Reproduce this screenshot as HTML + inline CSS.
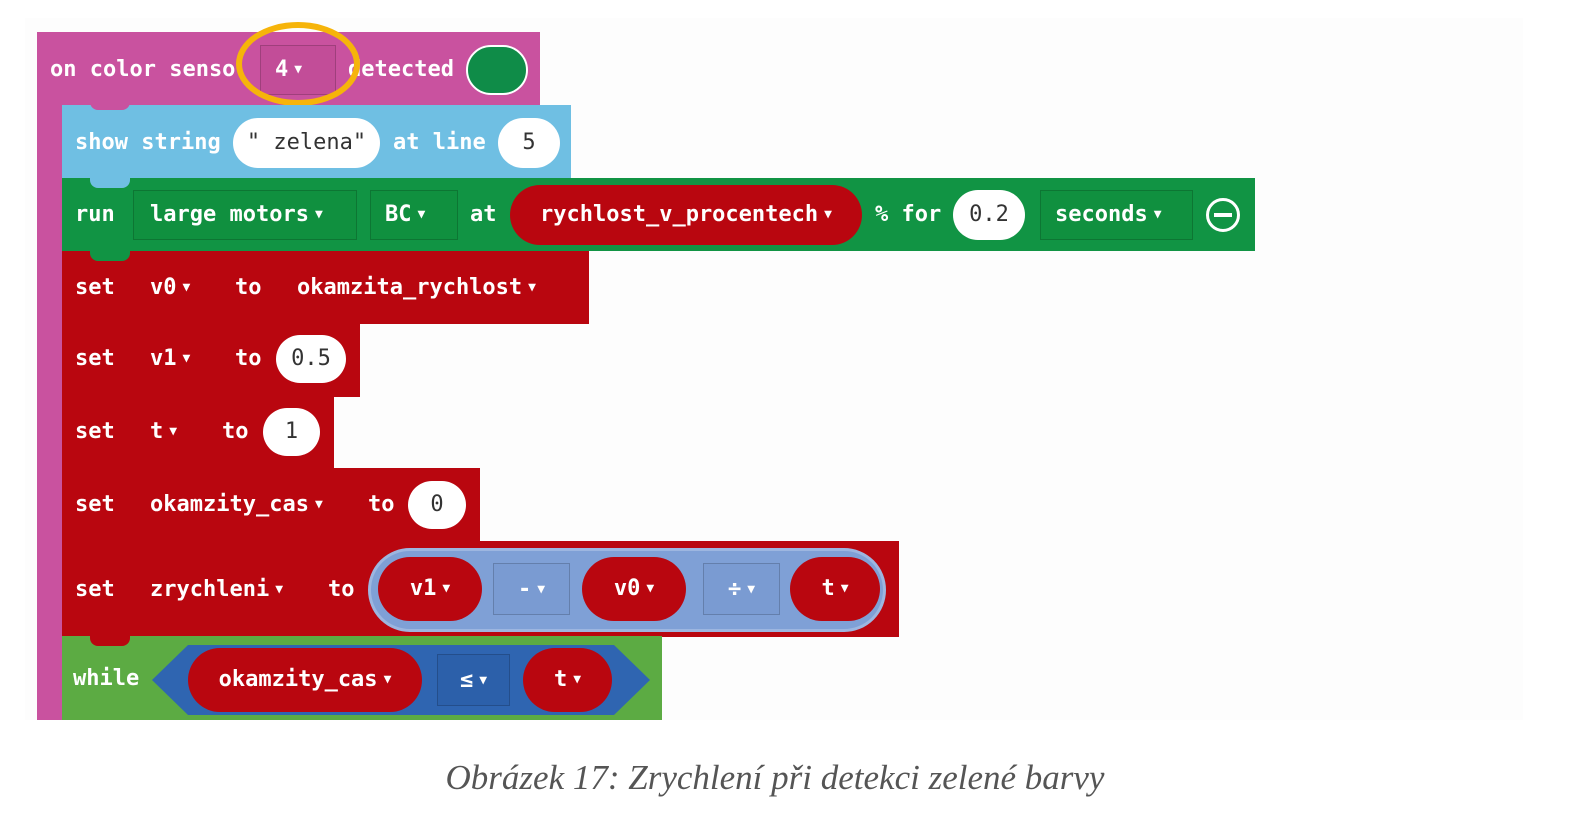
<!DOCTYPE html>
<html><head><meta charset="utf-8"><style>
body{margin:0;width:1580px;height:834px;background:#fff;position:relative;overflow:hidden;font-family:"DejaVu Sans Mono","Liberation Mono",monospace;}
div,span{position:absolute;box-sizing:border-box}
.t{color:#fff;font-size:22px;line-height:30px;white-space:nowrap;font-weight:bold;letter-spacing:0px}
.a{position:static;font-size:13px;vertical-align:3px;margin-left:6px}
.pill{background:#fff;border-radius:26px;color:#333;font-size:22px;text-align:center;font-weight:normal}
.red{background:#b9060f;border-radius:34px;color:#fff;font-size:22px;text-align:center;font-weight:bold;white-space:nowrap}
.box{border:1px solid rgba(0,0,0,0.18)}
</style></head><body>
<div style="left:25px;top:18px;width:1498px;height:702px;background:#fdfdfd"></div>
<!-- hat -->
<div style="left:37px;top:32px;width:503px;height:74px;background:#c9529f"></div>
<div style="left:37px;top:32px;width:25px;height:688px;background:#c9529f"></div>
<div class="box" style="left:260px;top:45px;width:76px;height:50px;background:#c24d98"></div>
<div class="t" style="left:50px;top:55px">on color senso</div>
<div class="t" style="left:275px;top:55px">4<span class="a">▼</span></div>
<div class="t" style="left:348px;top:55px">detected</div>
<div style="left:466px;top:45px;width:62px;height:50px;border-radius:25px;background:#0f8c48;border:2px solid #fff"></div>
<div style="left:236px;top:22px;width:124px;height:84px;border-radius:50%;border:6px solid #f6b40a"></div>
<!-- show string -->
<div style="left:62px;top:105px;width:509px;height:74px;background:#6fbfe3"></div>
<div style="left:90px;top:100px;width:40px;height:10px;background:#c9529f;border-radius:0 0 8px 8px"></div>
<div class="t" style="left:75px;top:128px">show string</div>
<div class="pill" style="left:233px;top:118px;width:147px;height:50px;line-height:50px">" zelena"</div>
<div class="t" style="left:393px;top:128px">at line</div>
<div class="pill" style="left:498px;top:118px;width:62px;height:50px;line-height:50px">5</div>
<!-- run -->
<div style="left:62px;top:178px;width:1193px;height:73px;background:#119444"></div>
<div style="left:90px;top:176px;width:40px;height:12px;background:#6fbfe3;border-radius:0 0 8px 8px"></div>
<div class="box" style="left:133px;top:190px;width:224px;height:50px;background:#10903f"></div>
<div class="box" style="left:370px;top:190px;width:88px;height:50px;background:#10903f"></div>
<div class="box" style="left:1040px;top:190px;width:153px;height:50px;background:#10903f"></div>
<div class="t" style="left:75px;top:200px">run</div>
<div class="t" style="left:150px;top:200px">large motors<span class="a">▼</span></div>
<div class="t" style="left:385px;top:200px">BC<span class="a">▼</span></div>
<div class="t" style="left:470px;top:200px">at</div>
<div class="red" style="left:510px;top:185px;width:352px;height:60px;line-height:60px">rychlost_v_procentech<span class="a">▼</span></div>
<div class="t" style="left:875px;top:200px">% for</div>
<div class="pill" style="left:953px;top:190px;width:72px;height:50px;line-height:50px">0.2</div>
<div class="t" style="left:1055px;top:200px">seconds<span class="a">▼</span></div>
<div style="left:1206px;top:198px;width:34px;height:34px;border-radius:50%;border:3px solid #fff"></div>
<div style="left:1214px;top:213px;width:18px;height:4px;background:#fff"></div>
<!-- sets -->
<div style="left:62px;top:251px;width:527px;height:73px;background:#b9060f"></div>
<div style="left:90px;top:249px;width:40px;height:12px;background:#119444;border-radius:0 0 8px 8px"></div>
<div style="left:62px;top:323px;width:298px;height:74px;background:#b9060f"></div>
<div style="left:62px;top:396px;width:272px;height:73px;background:#b9060f"></div>
<div style="left:62px;top:468px;width:418px;height:74px;background:#b9060f"></div>
<div style="left:62px;top:541px;width:837px;height:96px;background:#b9060f"></div>
<div class="t" style="left:75px;top:273px">set</div><div class="t" style="left:150px;top:273px">v0<span class="a">▼</span></div><div class="t" style="left:235px;top:273px">to</div><div class="t" style="left:297px;top:273px">okamzita_rychlost<span class="a">▼</span></div>
<div class="t" style="left:75px;top:344px">set</div><div class="t" style="left:150px;top:344px">v1<span class="a">▼</span></div><div class="t" style="left:235px;top:344px">to</div>
<div class="pill" style="left:276px;top:335px;width:70px;height:48px;line-height:48px">0.5</div>
<div class="t" style="left:75px;top:417px">set</div><div class="t" style="left:150px;top:417px">t<span class="a">▼</span></div><div class="t" style="left:222px;top:417px">to</div>
<div class="pill" style="left:263px;top:408px;width:57px;height:48px;line-height:48px">1</div>
<div class="t" style="left:75px;top:490px">set</div><div class="t" style="left:150px;top:490px">okamzity_cas<span class="a">▼</span></div><div class="t" style="left:368px;top:490px">to</div>
<div class="pill" style="left:408px;top:481px;width:58px;height:48px;line-height:48px">0</div>
<div class="t" style="left:75px;top:575px">set</div><div class="t" style="left:150px;top:575px">zrychleni<span class="a">▼</span></div><div class="t" style="left:328px;top:575px">to</div>
<div style="left:368px;top:548px;width:518px;height:84px;border-radius:42px;background:#7fa0d6;border:3px solid #9db6e0"></div>
<div class="red" style="left:378px;top:557px;width:104px;height:64px;line-height:64px">v1<span class="a">▼</span></div>
<div class="box" style="left:493px;top:563px;width:77px;height:52px;background:#7a9bd2;color:#fff;font-size:22px;line-height:52px;text-align:center;font-weight:bold">-<span class="a">▼</span></div>
<div class="red" style="left:582px;top:557px;width:104px;height:64px;line-height:64px">v0<span class="a">▼</span></div>
<div class="box" style="left:703px;top:563px;width:77px;height:52px;background:#7a9bd2;color:#fff;font-size:22px;line-height:52px;text-align:center;font-weight:bold">÷<span class="a">▼</span></div>
<div class="red" style="left:790px;top:557px;width:90px;height:64px;line-height:64px">t<span class="a">▼</span></div>
<!-- while -->
<div style="left:62px;top:636px;width:600px;height:84px;background:#5cab43"></div>
<div style="left:90px;top:634px;width:40px;height:12px;background:#b9060f;border-radius:0 0 8px 8px"></div>
<svg style="position:absolute;left:0;top:0" width="1580" height="834"><polygon points="152,680 188,645 614,645 650,680 614,715 188,715" fill="#2f65b1"/></svg>
<div class="t" style="left:73px;top:664px">while</div>
<div class="red" style="left:188px;top:648px;width:234px;height:64px;line-height:64px">okamzity_cas<span class="a">▼</span></div>
<div class="box" style="left:437px;top:654px;width:73px;height:52px;background:#2c60aa;color:#fff;font-size:22px;line-height:52px;text-align:center;font-weight:bold">≤<span class="a">▼</span></div>
<div class="red" style="left:523px;top:648px;width:89px;height:64px;line-height:64px">t<span class="a">▼</span></div>
<div style="left:0;top:758px;width:1550px;text-align:center;font-family:'Liberation Serif',serif;font-style:italic;font-size:35px;color:#555">Obrázek 17: Zrychlení při detekci zelené barvy</div>
</body></html>
